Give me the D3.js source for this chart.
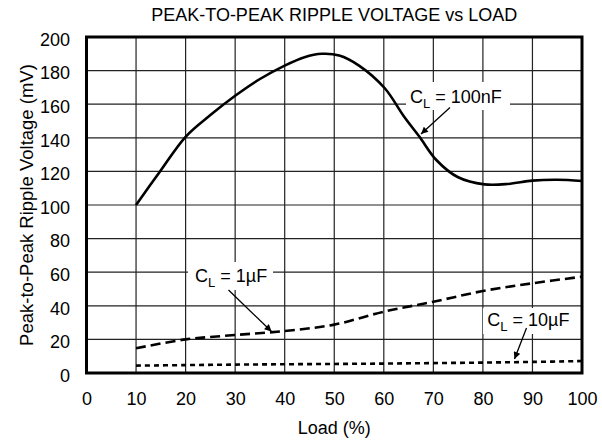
<!DOCTYPE html>
<html><head><meta charset="utf-8">
<script src="https://cdn.jsdelivr.net/npm/d3@7"></script>
<style>body{margin:0;background:#fff;} text{font-family:"Liberation Sans",Arial,sans-serif;fill:#000;}</style>
</head><body><svg id="c" width="602" height="440"></svg>
<script>
const xTicks = [0,10,20,30,40,50,60,70,80,90,100];
const yTicks = [0,20,40,60,80,100,120,140,160,180,200];
const load100nF = [10,14.8,20,25,30,35,40,44,47.5,51,55,60.2,64,67.2,70.6,75,80.3,85,90,95,100];
const v100nF    = [100,119.8,140.6,153.5,165,175,183,188,190,189,183,169.5,153,140.6,126.8,116.5,112.3,112.5,114.5,115,114.3];
const load1uF = [10,20,30,40,50,60,70,80,90,100];
const v1uF    = [14.7,20,22.6,25,28.8,36.5,42.4,48.8,53.4,57.3];
const load10uF = [10,20,30,40,50,60,70,80,90,100];
const v10uF    = [4.4,4.7,5,5.2,5.4,5.6,5.9,6.2,6.6,7.1];

const FONT = "Liberation Sans, Arial, sans-serif";
const svg = d3.select("#c");
const L=86.5, R=582, T=37, B=373;
const x = d3.scaleLinear().domain([0,100]).range([L,R]);
const y = d3.scaleLinear().domain([0,200]).range([B,T]);

// grid
svg.append("g").selectAll("line").data(xTicks.slice(1,-1)).join("line")
  .attr("x1",d=>x(d)).attr("x2",d=>x(d)).attr("y1",T).attr("y2",B)
  .attr("stroke","#222").attr("stroke-width",1.2);
svg.append("g").selectAll("line").data(yTicks.slice(1,-1)).join("line")
  .attr("y1",d=>y(d)).attr("y2",d=>y(d)).attr("x1",L).attr("x2",R)
  .attr("stroke","#222").attr("stroke-width",1.2);

// axes labels via d3 axes (no lines)
const xa = svg.append("g").attr("transform",`translate(0,${B})`)
  .call(d3.axisBottom(x).tickValues(xTicks).tickSize(0).tickPadding(19));
const ya = svg.append("g").attr("transform",`translate(${L},0)`)
  .call(d3.axisLeft(y).tickValues(yTicks).tickSize(0).tickPadding(16.5));
[xa,ya].forEach(a=>{a.select(".domain").remove(); a.selectAll("text").attr("font-size",18).attr("font-family",FONT).attr("fill","#000");});
ya.selectAll("text").attr("dy","0.46em");

// annotation white boxes
const boxes = [
  {x0:406, y0:82, x1:510, y1:110},
  {x0:188, y0:262, x1:273, y1:290},
  {x0:483, y0:308, x1:576, y1:334}
];
svg.append("g").selectAll("rect").data(boxes).join("rect")
  .attr("x",d=>d.x0).attr("y",d=>d.y0).attr("width",d=>d.x1-d.x0).attr("height",d=>d.y1-d.y0)
  .attr("fill","#fff");

// curves
const line = d3.line().curve(d3.curveCatmullRom.alpha(0.5));
function draw(xs,ys,dash){
  svg.append("path").attr("d",line(xs.map((v,i)=>[x(v),y(ys[i])])))
    .attr("fill","none").attr("stroke","#000").attr("stroke-width",2.6)
    .attr("stroke-dasharray",dash);
}
draw(load100nF,v100nF,null);
draw(load1uF,v1uF,"10,5");
draw(load10uF,v10uF,"5,4");

// frame
svg.append("rect").attr("x",L).attr("y",T).attr("width",R-L).attr("height",B-T)
  .attr("fill","none").attr("stroke","#000").attr("stroke-width",3);

// arrows
const defs = svg.append("defs");
defs.append("marker").attr("id","ah").attr("viewBox","0 0 10 10").attr("refX",10).attr("refY",5)
  .attr("markerWidth",13).attr("markerHeight",7).attr("markerUnits","userSpaceOnUse").attr("orient","auto")
  .append("path").attr("d","M0,0 L10,5 L0,10 z").attr("fill","#000");
const arrows = [
  {x1:450, y1:107.5, x2:421, y2:134},
  {x1:228.5, y1:290, x2:271.5, y2:331.5},
  {x1:526.5, y1:328, x2:514.5, y2:359}
];
svg.append("g").selectAll("line").data(arrows).join("line")
  .attr("x1",d=>d.x1).attr("y1",d=>d.y1).attr("x2",d=>d.x2).attr("y2",d=>d.y2)
  .attr("stroke","#000").attr("stroke-width",1.3).attr("marker-end","url(#ah)");

// labels
const labels = [
  {x:410, y:103.3, v:"100nF"},
  {x:195, y:282.3, v:"1µF"},
  {x:487.3, y:326, v:"10µF"}
];
labels.forEach(d=>{
  const t = svg.append("text").attr("x",d.x).attr("y",d.y).attr("font-size",18);
  t.append("tspan").text("C");
  t.append("tspan").attr("font-size",13).attr("dy",5).text("L");
  t.append("tspan").attr("dy",-5).text(" = "+d.v);
});

// titles
svg.append("text").attr("x",(L+R)/2).attr("y",21).attr("text-anchor","middle").attr("font-size",18)
  .text("PEAK-TO-PEAK RIPPLE VOLTAGE vs LOAD");
svg.append("text").attr("x",(L+R)/2).attr("y",434).attr("text-anchor","middle").attr("font-size",18)
  .text("Load (%)");
svg.append("text").attr("transform",`translate(33,${(T+B)/2}) rotate(-90)`).attr("text-anchor","middle").attr("font-size",18.5)
  .text("Peak-to-Peak Ripple Voltage (mV)");
</script></body></html>
